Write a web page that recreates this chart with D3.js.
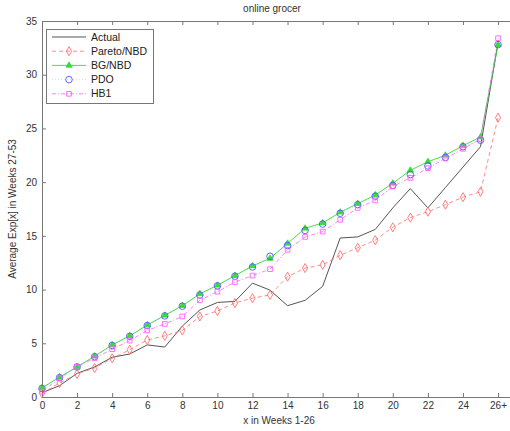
<!DOCTYPE html>
<html><head><meta charset="utf-8">
<script src="https://cdn.jsdelivr.net/npm/d3@7"></script>
<style>
body{margin:0;background:#fff;}
text{font-family:"Liberation Sans",Arial,sans-serif;}
</style></head>
<body>
<svg id="c" width="510" height="431"></svg>
<script>
const weeks = d3.range(0, 27);
const xTickValues = [0,2,4,6,8,10,12,14,16,18,20,22,24,26];
const xTickLabels = ["0","2","4","6","8","10","12","14","16","18","20","22","24","26+"];
const yTickValues = [0,5,10,15,20,25,30,35];
const seriesNames = ["Actual","Pareto/NBD","BG/NBD","PDO","HB1"];

const actual   = [0.4,1.05,2.2,2.8,3.7,4.0,4.85,4.65,6.6,8.1,8.8,8.9,10.6,9.95,8.5,9.0,10.3,14.8,14.9,15.6,17.6,19.4,17.6,19.5,21.4,23.3,33.0];
const pareto   = [0.35,1.3,2.15,2.7,3.6,4.4,5.3,5.7,6.2,7.5,8.0,8.75,9.2,9.5,11.2,12.0,12.3,13.2,13.9,14.6,15.8,16.7,17.25,17.9,18.6,19.1,26.0];
const bgnbd    = [0.85,1.85,2.8,3.8,4.85,5.7,6.7,7.6,8.5,9.6,10.4,11.3,12.2,12.9,14.3,15.7,16.2,17.2,18.0,18.8,19.9,21.1,21.9,22.5,23.4,24.2,32.8];
const pdo      = [0.8,1.8,2.8,3.75,4.8,5.65,6.65,7.55,8.45,9.5,10.35,11.25,12.1,13.1,14.1,15.5,16.1,17.1,17.9,18.7,19.7,20.7,21.5,22.3,23.3,23.9,32.8];
const hb1      = [0.5,1.75,2.8,3.6,4.45,5.25,6.2,6.8,7.5,9.0,9.8,10.7,11.3,11.9,13.7,14.9,15.4,16.5,17.6,18.3,19.6,20.4,21.3,22.2,23.1,24.0,33.4];

const svg = d3.select("#c");
const x = d3.scaleLinear().domain([0,27]).range([42, 42+27*17.54]);
const y = d3.scaleLinear().domain([0,35]).range([397, 21]);

const axisColor = "#777";
const gx = svg.append("g").attr("transform","translate(0,397)")
  .call(d3.axisBottom(x).tickValues(xTickValues).tickFormat((d,i)=>xTickLabels[i]).tickSize(-4).tickSizeOuter(0).tickPadding(5));
const gt = svg.append("g").attr("transform","translate(0,21)")
  .call(d3.axisTop(x).tickValues(xTickValues).tickFormat("").tickSize(-4).tickSizeOuter(0));
const gy = svg.append("g").attr("transform","translate(42,0)")
  .call(d3.axisLeft(y).tickValues(yTickValues).tickSize(-4).tickSizeOuter(0).tickPadding(5));
[gx,gt,gy].forEach(g=>{
  g.selectAll("path,line").attr("stroke",axisColor);
  g.selectAll("text").attr("fill","#333").style("font-size","10px");
});

svg.append("text").attr("x",272).attr("y",12).attr("text-anchor","middle").style("font-size","10px").attr("fill","#333").text("online grocer");
svg.append("text").attr("x",279).attr("y",424).attr("text-anchor","middle").style("font-size","10px").attr("fill","#333").text("x in Weeks 1-26");
svg.append("text").attr("transform","translate(16,209) rotate(-90)").attr("text-anchor","middle").style("font-size","10px").attr("fill","#333").text("Average Exp[x] in Weeks 27-53");

const line = d3.line().x((d,i)=>x(weeks[i])).y(d=>y(d));

const styles = [
  {data:actual, color:"#555", dash:null, width:1, marker:null},
  {data:pareto, color:"#ff7070", dash:"4,3", width:0.8, marker:"diamond"},
  {data:bgnbd, color:"#33dd33", dash:null, width:0.9, marker:"triangle"},
  {data:pdo, color:"#5555ff", dash:"1,2", width:0.6, marker:"circle", lineOpacity:0.4},
  {data:hb1, color:"#ff60ff", dash:"4,2,1,2", width:0.8, marker:"square"}
];

const sym = {
  diamond: d3.symbol().type(d3.symbolDiamond).size(24),
  triangle: d3.symbol().type(d3.symbolTriangle).size(16),
  circle: d3.symbol().type(d3.symbolCircle).size(34),
  square: d3.symbol().type(d3.symbolSquare).size(22)
};

styles.forEach(s=>{
  svg.append("path").datum(s.data).attr("d",line).attr("fill","none")
    .attr("stroke",s.color).attr("stroke-width",s.width)
    .attr("stroke-opacity",s.lineOpacity||1)
    .attr("stroke-dasharray",s.dash);
});
styles.forEach(s=>{
  if(!s.marker) return;
  svg.append("g").selectAll("path").data(s.data).join("path")
    .attr("transform",(d,i)=>`translate(${x(weeks[i])},${y(d)})`)
    .attr("d",sym[s.marker]())
    .attr("fill", s.marker==="triangle"? s.color : "none")
    .attr("stroke",s.color).attr("stroke-width",0.9);
});

const lg = svg.append("g");
lg.append("rect").attr("x",46.5).attr("y",29.5).attr("width",107).attr("height",74)
  .attr("fill","#fff").attr("stroke","#777").attr("stroke-width",1);
styles.forEach((s,i)=>{
  const yy = 37 + i*14.2;
  lg.append("line").attr("x1",52).attr("x2",86).attr("y1",yy).attr("y2",yy)
    .attr("stroke",s.color).attr("stroke-width",s.width).attr("stroke-opacity",s.lineOpacity||1).attr("stroke-dasharray",s.dash);
  if(s.marker){
    lg.append("path").attr("transform",`translate(69,${yy})`).attr("d",sym[s.marker]())
      .attr("fill", s.marker==="triangle"? s.color : "none").attr("stroke",s.color).attr("stroke-width",0.9);
  }
  lg.append("text").attr("x",91).attr("y",yy+3.5).style("font-size","10.5px").attr("fill","#222").text(seriesNames[i]);
});
</script>
</body></html>
